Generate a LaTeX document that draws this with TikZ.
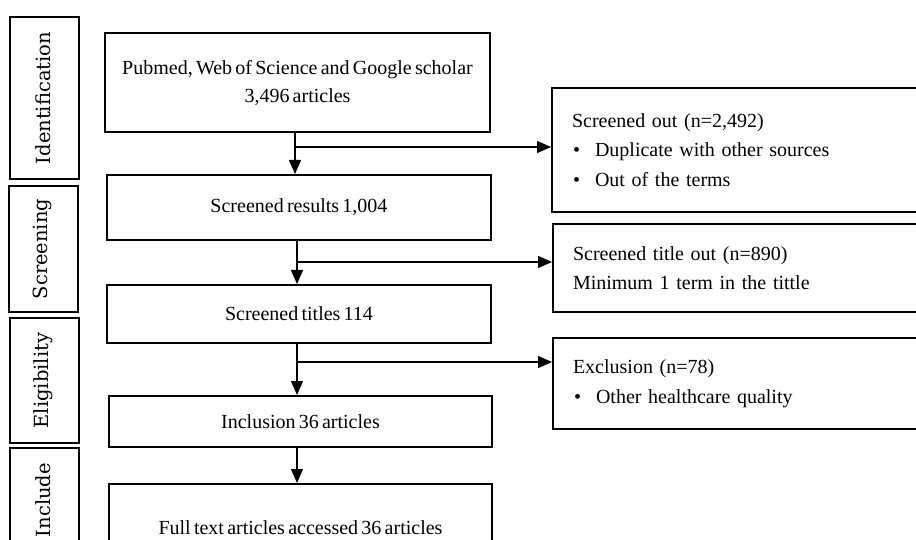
\documentclass[tikz,border=0pt]{standalone}
\usepackage{fontspec}
\setmainfont{Liberation Serif}[WordSpace=0.65]
\newfontfamily\phasefont{DejaVu Serif}
\usetikzlibrary{arrows.meta}
\begin{document}
\begin{tikzpicture}[x=1pt,y=-1pt,
  txt/.style={font=\fontsize{20}{28}\selectfont},
  mainbox/.style={draw,line width=2pt,inner sep=0pt,align=center,txt},
  sidebox/.style={draw,line width=2pt,inner xsep=20pt,inner ysep=0pt,text width=360pt,align=left,font=\fontsize{20}{29.5}\selectfont},
  phasebox/.style={draw,line width=2.2pt,inner sep=0pt,minimum width=69pt},
  phasetxt/.style={rotate=90,font=\phasefont\fontsize{19.5}{22}\selectfont},
  arr/.style={line width=1.3pt,-{Triangle[length=14pt,width=12pt]}}]
\useasboundingbox (0,0) rectangle (916,540);
\clip (0,0) rectangle (916,540);
% phase boxes
\node[phasebox,minimum height=162pt] (pid) at (44.5,98) {};
\node[phasetxt] at (43,98) {Identification};
\node[phasebox,minimum height=126pt] (psc) at (43.5,249) {};
\node[phasetxt] at (42,249) {Screening};
\node[phasebox,minimum height=125pt] (pel) at (44.5,380.5) {};
\node[phasetxt] at (43,380.5) {Eligibility};
\node[phasebox,minimum height=104pt] (pin) at (44.5,500) {};
\node[phasetxt] at (43,500) {Include};
% main boxes
\node[mainbox,minimum width=385pt,minimum height=99pt] (b1) at (297.5,82.5) {Pubmed, Web of Science and Google scholar\\3,496 articles};
\node[mainbox,minimum width=384pt,minimum height=65pt] (b2) at (299,207.5) {Screened results 1,004};
\node[mainbox,minimum width=384pt,minimum height=58pt] (b3) at (299,314) {Screened titles 114};
\node[mainbox,minimum width=383pt,minimum height=51pt] (b4) at (300.5,421.5) {Inclusion 36 articles};
\node[mainbox,minimum width=383pt,minimum height=88pt] (b5) at (300.5,528) {Full text articles accessed 36 articles};
% side boxes
\node[sidebox,minimum height=124pt] (r1) at (752,150) {Screened out (n=2,492)\\\hspace*{1pt}\textbullet\hspace{15pt}Duplicate with other sources\\\hspace*{1pt}\textbullet\hspace{15pt}Out of the terms};
\node[sidebox,minimum height=88pt] (r2) at (753,268) {Screened title out (n=890)\\Minimum 1 term in the tittle};
\node[sidebox,minimum height=91pt] (r3) at (753,383.5) {Exclusion (n=78)\\\hspace*{1pt}\textbullet\hspace{15pt}Other healthcare quality};
% connectors
\coordinate (j1) at (295,147);
\coordinate (j2) at (297,262);
\coordinate (j3) at (297,362);
\draw[arr] (j1 |- b1.south) -- (j1 |- b2.north);
\draw[arr] (j1) -- (j1 -| r1.west);
\draw[arr] (j2 |- b2.south) -- (j2 |- b3.north);
\draw[arr] (j2) -- (j2 -| r2.west);
\draw[arr] (j3 |- b3.south) -- (j3 |- b4.north);
\draw[arr] (j3) -- (j3 -| r3.west);
\draw[arr] (b4.south -| j3) -- (b5.north -| j3);
\end{tikzpicture}
\end{document}
